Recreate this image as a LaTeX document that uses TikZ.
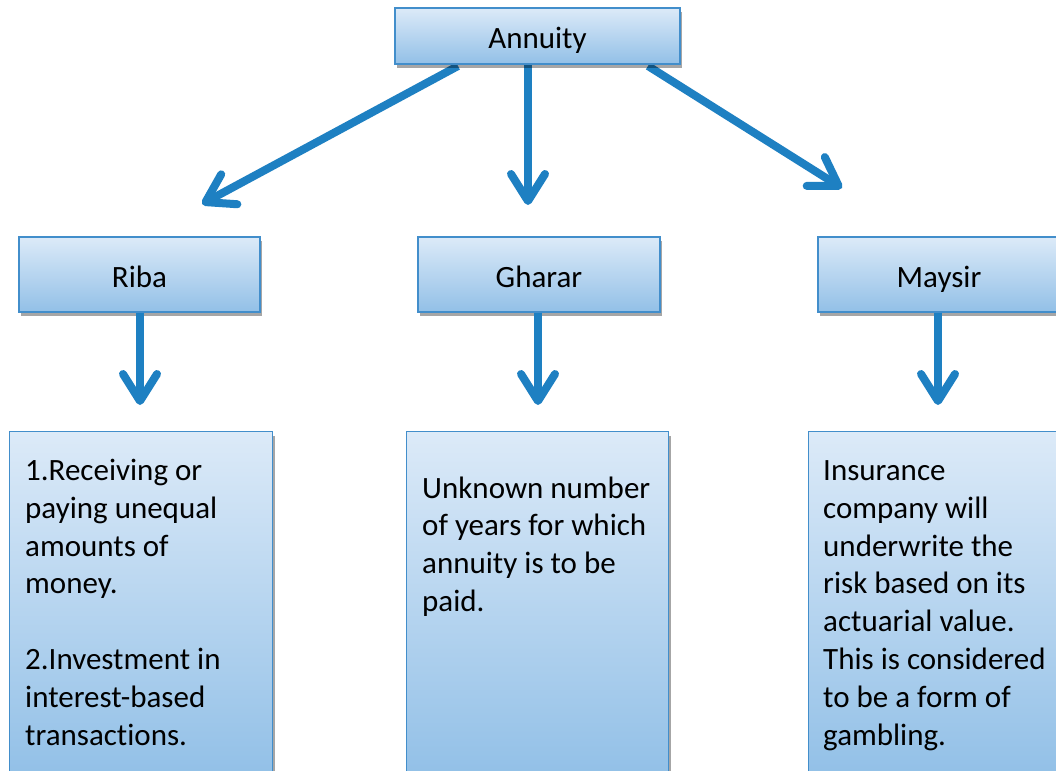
\documentclass[tikz,border=0pt]{standalone}
\usepackage{fontspec}
\setmainfont{Carlito}[Ligatures=NoCommon]
\usetikzlibrary{arrows.meta,shadows}
\definecolor{arrblue}{RGB}{30,128,194}
\definecolor{boxborder}{RGB}{66,142,203}
\definecolor{gtop}{RGB}{220,234,248}
\definecolor{gbot}{RGB}{146,192,231}
\tikzset{
  box/.style={draw=boxborder, line width=1.3pt, top color=gtop, bottom color=gbot,
    drop shadow={shadow xshift=2pt, shadow yshift=-4pt, fill=black, opacity=0.35},
    inner sep=0pt, text height=25pt, text depth=0pt, font=\fontsize{31}{37.8}\selectfont},
  txt/.style={inner sep=0pt, align=left, font=\fontsize{31}{37.8}\selectfont},
  arr/.style={draw=arrblue, line width=8pt,
    -{Straight Barb[length=27pt, width=34pt, round]}},
}
\begin{document}
\begin{tikzpicture}[x=1pt,y=-1pt]
\useasboundingbox (0,0) rectangle (1056,770);
\clip (0,0) rectangle (1056,770);
\fill[white] (0,0) rectangle (1056,770);

% arrows from top box (drawn first, box covers their start)
\coordinate (a1s) at (458,66);
\coordinate (a1e) at (202,204);
\coordinate (a2s) at (528,62);
\coordinate (a2e) at (528,205);
\coordinate (a3s) at (648,66);
\coordinate (a3e) at (842,188);
\draw[arr] (a1s) -- (a1e);
\draw[arr] (a2s) -- (a2e);
\draw[arr] (a3s) -- (a3e);

% top box
\node[box, minimum width=285pt, minimum height=56pt] (ann) at (537.5,36) {Annuity};

% second row
\node[box, minimum width=241pt, minimum height=75pt] (riba) at (139.5,274.5) {Riba};
\node[box, minimum width=242pt, minimum height=75pt] (gharar) at (539,274.5) {Gharar};
\node[box, minimum width=242pt, minimum height=75pt] (maysir) at (939,274.5) {Maysir};

% third row boxes
\node[box, minimum width=263pt, minimum height=344pt, anchor=north west] (ribab) at (9,431) {};
\node[box, minimum width=262pt, minimum height=344pt, anchor=north west] (ghararb) at (406,431) {};
\node[box, minimum width=262pt, minimum height=344pt, anchor=north west] (maysirb) at (808,431) {};

% arrows second row to third row
\coordinate (r1) at (140,405);
\coordinate (r2) at (538,405);
\coordinate (r3) at (938,405);
\draw[arr] (riba.south -| r1) -- (r1);
\draw[arr] (gharar.south -| r2) -- (r2);
\draw[arr] (maysir.south -| r3) -- (r3);

% texts (base anchor = baseline of the last line)
\node[txt, anchor=base west] (ribat) at (25,745) {1.Receiving or\\paying unequal\\amounts of\\money.\\[37.8pt]2.Investment in\\interest-based\\transactions.};
\node[txt, anchor=base west] (ghart) at (422,611.5) {Unknown number\\of years for which\\annuity is to be\\paid.};
\node[txt, anchor=base west] (mayt) at (823,745) {Insurance\\company will\\underwrite the\\risk based on its\\actuarial value.\\This is considered\\to be a form of\\gambling.};
\end{tikzpicture}
\end{document}
